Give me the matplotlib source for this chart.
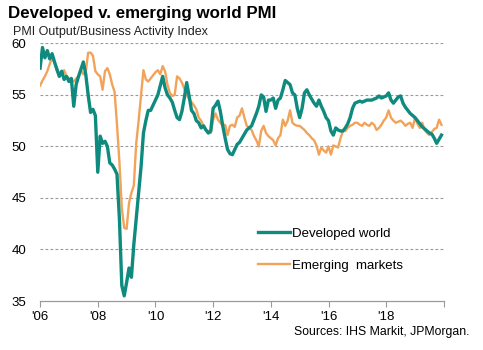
import numpy as np
import matplotlib
matplotlib.use("Agg")
import matplotlib.pyplot as plt

plt.rcParams["font.family"] = ["Liberation Sans", "DejaVu Sans"]

# Monthly PMI readings, Jan 2006 - Dec 2019
developed = [
    57.6, 59.6, 58.6, 59.3, 58.5, 59.0, 58.2, 57.5, 56.8, 57.3, 56.5, 56.8,  # 2006
    56.3, 56.6, 53.9, 56.0, 56.8, 57.5, 58.2, 57.0, 55.0, 53.3, 53.6, 53.0,  # 2007
    47.5, 51.0, 50.3, 50.5, 50.0, 48.4, 48.2, 47.8, 47.3, 43.0, 36.5, 35.5,  # 2008
    36.8, 38.2, 37.3, 40.5, 43.0, 45.5, 48.0, 51.3, 52.5, 53.5, 53.5, 54.0,  # 2009
    54.5, 55.0, 55.9, 56.8, 55.7, 55.0, 54.7, 54.3, 53.5, 52.8, 52.6, 53.4,  # 2010
    54.7, 56.2, 54.9, 53.5, 53.2, 52.5, 52.3, 51.8, 52.0, 51.6, 51.3, 51.5,  # 2011
    53.7, 54.0, 54.4, 53.4, 52.0, 50.8, 49.7, 49.3, 49.2, 49.7, 50.2, 50.4,  # 2012
    50.8, 51.2, 51.6, 51.8, 52.0, 52.6, 53.2, 53.9, 55.0, 54.8, 53.4, 54.5,  # 2013
    54.5, 54.7, 53.7, 54.5, 54.7, 55.5, 56.4, 56.2, 56.0, 55.2, 55.0, 53.7,  # 2014
    52.8, 53.7, 55.2, 55.5, 55.0, 54.6, 54.2, 53.9, 54.5, 53.9, 53.4, 52.8,  # 2015
    52.5, 51.5, 51.1, 51.8, 51.6, 51.5, 51.5, 51.8, 52.2, 52.8, 53.7, 54.2,  # 2016
    54.3, 54.4, 54.3, 54.4, 54.5, 54.5, 54.5, 54.6, 54.7, 54.9, 54.7, 54.8,  # 2017
    54.9, 55.2, 54.5, 54.2, 54.5, 54.8, 54.9, 54.2, 53.8, 53.5, 53.2, 53.0,  # 2018
    52.8, 52.5, 52.2, 51.9, 51.7, 51.5, 51.3, 51.2, 50.8, 50.3, 50.7, 51.1,  # 2019
]
emerging = [
    55.9, 56.4, 56.8, 57.3, 58.0, 58.6, 58.1, 57.3, 56.8, 57.0, 57.4, 56.8,  # 2006
    56.6, 56.5, 56.3, 56.6, 56.8, 57.4, 57.0, 57.2, 59.1, 59.1, 58.8, 57.3,  # 2007
    57.0, 56.8, 55.5, 57.3, 57.6, 57.0, 56.0, 55.3, 52.1, 48.5, 44.0, 42.1,  # 2008
    42.0, 44.5, 45.5, 46.2, 50.3, 52.5, 55.0, 57.4, 56.5, 56.3, 56.6, 56.9,  # 2009
    57.2, 57.4, 57.0, 57.8, 57.3, 56.0, 55.2, 54.9, 55.0, 56.8, 56.6, 56.2,  # 2010
    55.6, 55.0, 54.6, 54.3, 54.0, 53.6, 52.8, 52.5, 52.0, 51.6, 51.5, 51.3,  # 2011
    52.6, 53.2, 52.6, 52.3, 52.0, 52.1, 51.1, 52.0, 52.1, 51.9, 52.8, 53.0,  # 2012
    53.7, 52.8, 52.0, 51.8, 51.6, 51.0, 50.6, 50.0, 51.5, 52.0, 51.3, 51.0,  # 2013
    50.8, 50.6, 50.1, 50.8, 51.1, 52.6, 52.0, 52.5, 53.5, 52.3, 52.1, 52.0,  # 2014
    52.0, 51.8, 51.6, 51.3, 51.1, 50.8, 50.6, 50.1, 49.2, 49.9, 49.6, 49.4,  # 2015
    50.0, 49.2, 50.1, 50.0, 49.9, 50.8, 51.5, 51.5, 51.8, 52.0, 52.1, 52.3,  # 2016
    52.3, 52.1, 52.0, 52.3, 52.1, 52.0, 52.3, 52.1, 51.6, 51.8, 52.1, 52.5,  # 2017
    52.8, 53.5, 52.8, 52.5, 52.3, 52.4, 52.5, 52.3, 52.0, 52.2, 52.3, 51.8,  # 2018
    52.8, 52.2, 51.8, 52.3, 51.6, 51.3, 51.1, 51.4, 51.7, 51.8, 52.6, 52.1,  # 2019
]
tick_years = [2006, 2008, 2010, 2012, 2014, 2016, 2018]
tick_labels = ["'06", "'08", "'10", "'12", "'14", "'16", "'18"]
y_ticks = [35, 40, 45, 50, 55, 60]

teal = "#0f8a7e"
orange = "#f2a35a"
grey = "#9a9a9a"

months = 2006 + np.arange(len(developed)) / 12.0

fig = plt.figure(figsize=(4.83, 3.5), dpi=100)
ax = fig.add_axes([0.083, 0.14, 0.836, 0.736])

for y in y_ticks[1:]:
    ax.axhline(y, color=grey, lw=0.8, ls=(0, (2.5, 2)), zorder=0)

ax.plot(months, emerging, color=orange, lw=1.7, zorder=2)
ax.plot(months, developed, color=teal, lw=2.4, zorder=3)

ax.set_xlim(2006, 2020)
ax.set_ylim(35, 60)
ax.set_xticks(tick_years + [2020])
ax.set_xticklabels(tick_labels + [""])
ax.set_yticks(y_ticks)
ax.tick_params(axis="x", direction="out", length=4, width=0.8, color=grey,
               labelsize=9.5, pad=3)
ax.tick_params(axis="y", length=0, labelsize=9.5, pad=10)
for side in ["top", "right", "left"]:
    ax.spines[side].set_visible(False)
ax.spines["bottom"].set_color(grey)
ax.spines["bottom"].set_linewidth(0.9)

# legend drawn as two separate entries with a gap
h_dev = ax.plot([], [], color=teal, lw=2.4)[0]
h_em = ax.plot([], [], color=orange, lw=1.7)[0]
leg1 = ax.legend([h_dev], ["Developed world"], loc="upper left",
                 bbox_to_anchor=(0.527, 0.305), frameon=False, fontsize=9.5,
                 handlelength=2.4, handletextpad=0.2, borderaxespad=0)
ax.add_artist(leg1)
ax.legend([h_em], ["Emerging  markets"], loc="upper left",
          bbox_to_anchor=(0.527, 0.182), frameon=False, fontsize=9.5,
          handlelength=2.4, handletextpad=0.2, borderaxespad=0)

fig.text(0.017, 0.962, "Developed v. emerging world PMI", fontsize=12.2,
         fontweight="bold", va="center", ha="left")
fig.text(0.027, 0.908, "PMI Output/Business Activity Index", fontsize=9,
         va="center", ha="left", color="#222222")
fig.text(0.973, 0.052, "Sources: IHS Markit, JPMorgan.", fontsize=8.8,
         va="center", ha="right")

fig.savefig("out.png", dpi=100)
